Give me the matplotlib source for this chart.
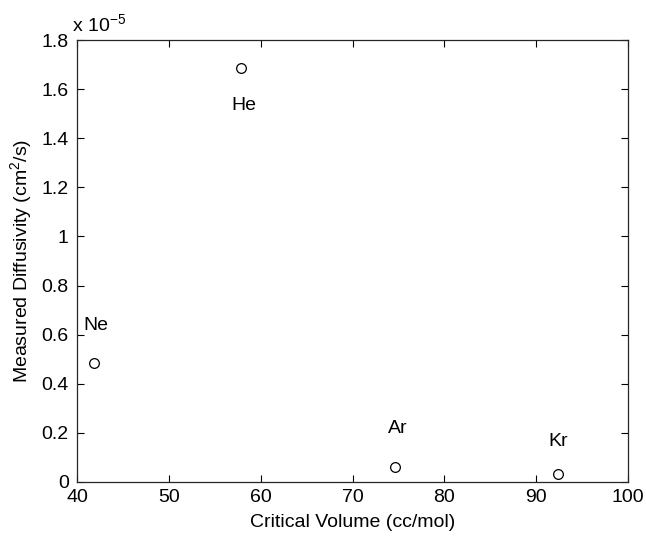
import matplotlib
matplotlib.use("Agg")
import matplotlib.pyplot as plt
from matplotlib.ticker import FuncFormatter, MultipleLocator

plt.rcParams['font.family'] = ['Liberation Sans', 'DejaVu Sans']
plt.rcParams['mathtext.fontset'] = 'custom'
plt.rcParams['mathtext.rm'] = 'Liberation Sans'
plt.rcParams['mathtext.it'] = 'Liberation Sans'

# Noble gas data
gases = ['Ne', 'He', 'Ar', 'Kr']
critical_volume = [41.9, 57.9, 74.6, 92.4]          # cc/mol
diffusivity = [0.485e-5, 1.686e-5, 0.061e-5, 0.033e-5]  # cm^2/s
label_x = [42.1, 58.2, 74.9, 92.4]
label_y = [0.636e-5, 1.535e-5, 0.216e-5, 0.163e-5]

fs = 14

fig = plt.figure(figsize=(6.46, 5.38), dpi=100)
ax = fig.add_axes([77/646, 1 - 482/538, 551/646, 442/538])

ax.plot(critical_volume, diffusivity, 'o', mfc='white', mec='black',
        markersize=7, markeredgewidth=0.9, linestyle='none')

for g, lx, ly in zip(gases, label_x, label_y):
    ax.text(lx, ly, g, fontsize=fs, ha='center', va='center')

ax.set_xlim(40, 100)
ax.set_ylim(0, 1.8e-5)
ax.xaxis.set_major_locator(MultipleLocator(10))
ax.yaxis.set_major_locator(MultipleLocator(0.2e-5))
ax.yaxis.set_major_formatter(FuncFormatter(lambda v, p: f"{v / 1e-5:g}"))

ax.tick_params(direction='in', top=True, right=True, length=5,
               width=0.8, labelsize=fs)
ax.tick_params(axis='x', pad=5)
ax.tick_params(axis='y', pad=6)
for s in ax.spines.values():
    s.set_linewidth(0.9)
    s.set_color('#262626')

ax.text(-5/551, 1 + 9/442, r'x 10$^{\mathregular{-5}}$', transform=ax.transAxes,
        fontsize=fs, ha='left', va='baseline')

ax.set_xlabel('Critical Volume (cc/mol)', fontsize=fs, labelpad=6)
ax.set_ylabel(r'Measured Diffusivity (cm$^{\mathregular{2}}$/s)', fontsize=fs, labelpad=5)

fig.savefig('out.png', dpi=100)
